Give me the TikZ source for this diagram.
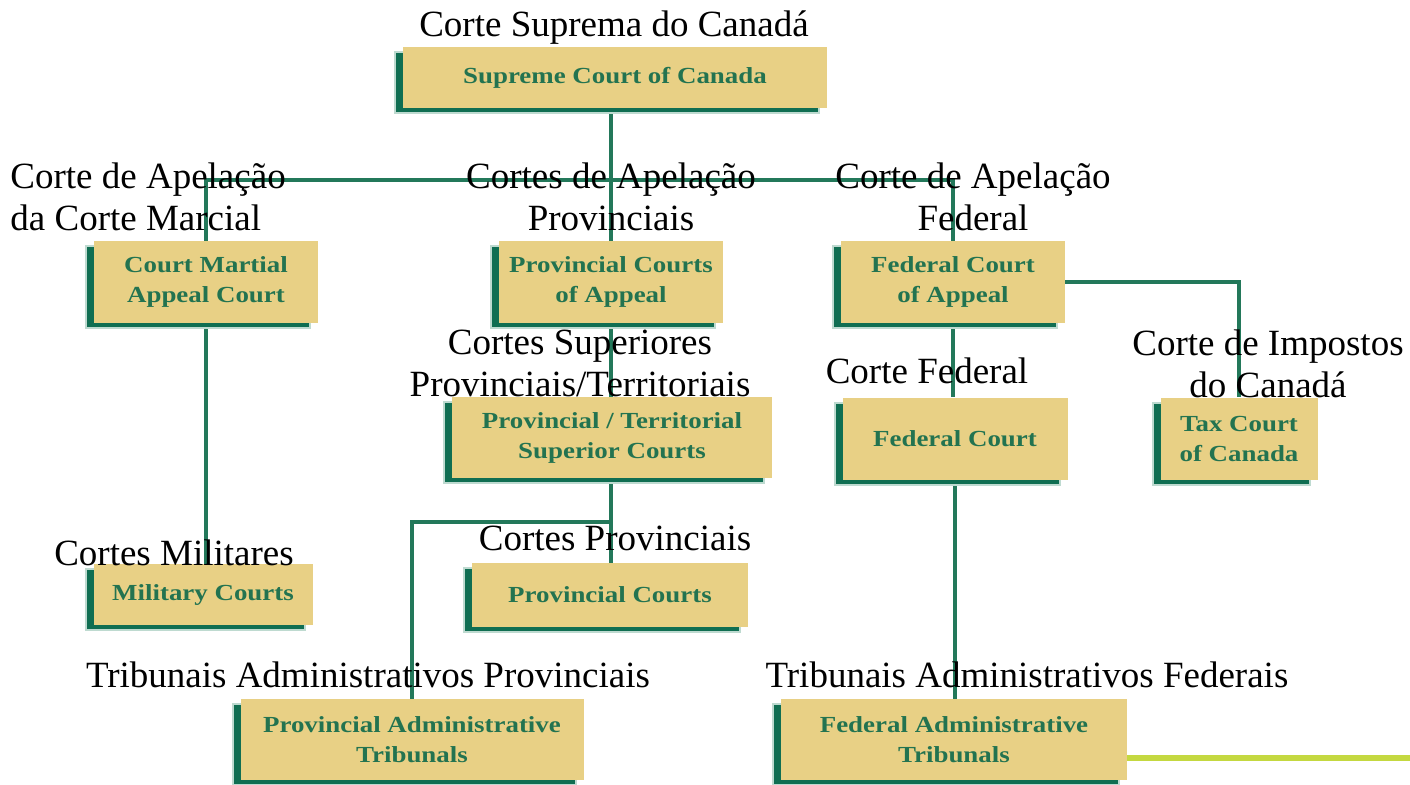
\documentclass[tikz,border=0pt]{standalone}
\usepackage{fontspec}
\setmainfont{Liberation Serif}
\newfontfamily\courtfont[FakeStretch=1.17]{Liberation Serif}
\usetikzlibrary{calc}
\usetikzlibrary{positioning}
\usetikzlibrary{shadows}
\usetikzlibrary{backgrounds}
\definecolor{court-tan}{RGB}{232,208,133}
\definecolor{court-green}{RGB}{16,110,82}
\definecolor{court-halo}{RGB}{190,218,208}
\definecolor{court-text}{RGB}{35,115,80}
\definecolor{link-green}{RGB}{35,120,90}
\definecolor{lime}{RGB}{196,216,64}

\begin{document}
\begin{tikzpicture}[x=0.5pt, y=-0.5pt,
  court/.style={fill=court-tan, text=court-text, inner sep=0pt, align=center,
    font=\courtfont\fontsize{11.5}{15}\selectfont\bfseries,
    drop shadow={shadow xshift=-4pt, shadow yshift=-2.5pt, fill=court-green,
      draw=court-halo, line width=1pt, opacity=1}},
  lbl/.style={inner sep=0pt, align=center, font=\fontsize{18.5}{21}\selectfont},
  link/.style={draw=link-green, line width=2pt}]

\useasboundingbox (0,0) rectangle (1410,784);

% courts
\node [court, minimum width=212pt, minimum height=30.5pt] (sup) at (615,77.5) {Supreme Court of Canada};
\node [court, minimum width=112pt, minimum height=41pt] (cmac) at (206,282) {Court Martial\\Appeal Court};
\node [court, minimum width=112pt, minimum height=41pt] (pcoa) at (611,282) {Provincial Courts\\of Appeal};
\node [court, minimum width=112pt, minimum height=41pt] (fcoa) at (953,282) {Federal Court\\of Appeal};
\node [court, minimum width=160pt, minimum height=40.5pt] (ptsc) at (612,437.5) {Provincial / Territorial\\Superior Courts};
\node [court, minimum width=112.5pt, minimum height=41pt] (fc) at (955,438.5) {Federal Court};
\node [court, minimum width=78.5pt, minimum height=41pt] (tcc) at (1239,438.5) {Tax Court\\of Canada};
\node [court, minimum width=109.5pt, minimum height=30.5pt] (mc) at (203,594.5) {Military Courts};
\node [court, minimum width=138pt, minimum height=32pt] (pc) at (610,595) {Provincial Courts};
\node [court, minimum width=171.5pt, minimum height=40.5pt] (pat) at (412,739.5) {Provincial Administrative\\Tribunals};
\node [court, minimum width=173pt, minimum height=40.5pt] (fat) at (954,739.5) {Federal Administrative\\Tribunals};

\coordinate (bus) at (611,180);
\coordinate (pbr) at (611,522);
\coordinate (edge) at (1410,758);

\begin{scope}[on background layer]
\draw [link] (sup.south -| bus) -- (bus);
\draw [link] (cmac.north) |- (bus) -| (fcoa.north);
\draw [link] (bus) -- (bus |- pcoa.north);
\draw [link] (cmac.south) -- (cmac.south |- mc.north);
\draw [link] (pcoa.south) -- (pcoa.south |- ptsc.north);
\draw [link] (ptsc.south -| pbr) -- (pbr |- pc.north);
\draw [link] (pbr) -| (pat.north);
\draw [link] (fcoa.south) -- (fcoa.south |- fc.north);
\draw [link] (fc.south) -- (fc.south |- fat.north);
\draw [link] (fcoa.east) -| (tcc.north);
\end{scope}
\draw [lime, line width=3pt] (fat.east |- edge) -- (edge);

% portuguese labels
\node [lbl, anchor=base] (l-sup) at (614,36) {Corte Suprema do Canadá};
\node [lbl, align=left, anchor=base west] (l-cmac) at (10,230) {Corte de Apelação\\da Corte Marcial};
\node [lbl, anchor=base] (l-pcoa) at (611,230) {Cortes de Apelação\\Provinciais};
\node [lbl, anchor=base] (l-fcoa) at (973,230) {Corte de Apelação\\Federal};
\node [lbl, anchor=base] (l-ptsc) at (580,396) {Cortes Superiores\\Provinciais/Territoriais};
\node [lbl, anchor=base] (l-fc) at (927,383) {Corte Federal};
\node [lbl, anchor=base] (l-tcc) at (1268,397) {Corte de Impostos\\do Canadá};
\node [lbl, anchor=base] (l-mc) at (174,565) {Cortes Militares};
\node [lbl, anchor=base] (l-pc) at (615,550) {Cortes Provinciais};
\node [lbl, anchor=base] (l-pat) at (368,687) {Tribunais Administrativos Provinciais};
\node [lbl, anchor=base] (l-fat) at (1027,687) {Tribunais Administrativos Federais};

\end{tikzpicture}
\end{document}
